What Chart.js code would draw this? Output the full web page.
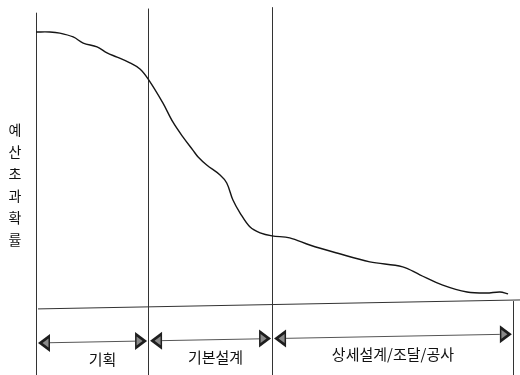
<!DOCTYPE html>
<html><head><meta charset="utf-8">
<script src="https://cdn.jsdelivr.net/npm/chart.js@4"></script>
<style>html,body{margin:0;padding:0;background:#fff}#wrap{width:520px;height:375px}</style>
</head><body><div id="wrap"><canvas id="c" width="520" height="375"></canvas></div>
<script>
// ---- data ----
const phases = ['기획', '기본설계', '상세설계/조달/공사'];
const phaseBounds = [0, 23.5, 49.5, 100];          // project progress (%) at phase boundaries
const boundTops = [107, 108.5, 109, 2.5];           // top of each boundary line (y units)
const yAxisTitle = '예산초과확률';
const progress = [0, 2.9, 5.0, 7.8, 9.9, 12.8, 14.9, 17.0, 19.7, 21.8, 23.5, 26.6, 28.7, 30.8, 32.9, 34.0, 35.8, 38.6, 40.0, 41.3, 42.8, 44.9, 47.0, 49.5, 53.2, 57.4, 63.1, 70.0, 76.9, 80.5, 85.3, 90.4, 94.5, 97.3, 99.0];
const probability = [100, 100, 99.6, 98.2, 96.0, 94.6, 92.4, 90.9, 88.8, 86.6, 83.0, 74.3, 67.4, 62.0, 57.2, 54.7, 51.8, 48.2, 45.3, 39.1, 34.4, 29.3, 27.2, 26.1, 25.4, 22.8, 19.9, 16.7, 14.9, 12.0, 8.3, 5.8, 5.4, 5.8, 5.1];

const FONT = '"Noto Sans CJK KR", "Noto Sans", sans-serif';

const decor = {
  id: 'decor',
  beforeDatasetsDraw(chart) {
    const {ctx, scales: {x, y}} = chart;
    const slope = -9 / 484;
    const x0 = x.getPixelForValue(0);
    const tilt = px => (px - x0) * slope;
    ctx.save();
    // boundary vertical lines
    ctx.strokeStyle = '#333';
    ctx.lineWidth = 1;
    phaseBounds.forEach((b, i) => {
      const px = Math.round(x.getPixelForValue(b)) + 0.5;
      ctx.beginPath();
      ctx.moveTo(px, y.getPixelForValue(boundTops[i]));
      ctx.lineTo(px, chart.height);
      ctx.stroke();
    });
    // horizontal axis (slightly tilted as in the scan)
    const yz = y.getPixelForValue(0) + 1;
    ctx.beginPath();
    ctx.moveTo(x0 + 2, yz + tilt(x0 + 2));
    ctx.lineTo(chart.width, yz + tilt(chart.width));
    ctx.stroke();

    // phase arrows
    const ya = y.getPixelForValue(-12.7);
    const aw = 12, ah = 9;
    const head = (tipX, dir) => {
      const ty = ya + tilt(tipX);
      const bx = tipX + dir * aw;
      ctx.fillStyle = '#1e1e1e';
      ctx.beginPath();
      ctx.moveTo(tipX, ty);
      ctx.lineTo(bx, ty - ah);
      ctx.lineTo(bx, ty + ah);
      ctx.closePath();
      ctx.fill();
      ctx.fillStyle = '#8a8a8a';
      ctx.beginPath();
      ctx.moveTo(tipX + dir * 4.5, ty);
      ctx.lineTo(bx - dir * 1.5, ty - ah + 4.5);
      ctx.lineTo(bx - dir * 1.5, ty + ah - 4.5);
      ctx.closePath();
      ctx.fill();
      return bx;
    };
    const labelShift = [10, 5, 0];
    phases.forEach((name, i) => {
      const l = x.getPixelForValue(phaseBounds[i]) + 2;
      const r = x.getPixelForValue(phaseBounds[i + 1]) - 1;
      const lb = head(l, 1);
      const rb = head(r, -1);
      ctx.strokeStyle = '#555';
      ctx.lineWidth = 1;
      ctx.beginPath();
      ctx.moveTo(lb, ya + tilt(lb));
      ctx.lineTo(rb, ya + tilt(rb));
      ctx.stroke();
      const cx = (l + r) / 2 + labelShift[i];
      ctx.fillStyle = '#111';
      ctx.font = '15px ' + FONT;
      ctx.textAlign = 'center';
      ctx.textBaseline = 'middle';
      ctx.fillText(name, cx, ya + tilt(cx) + 18);
    });

    // vertical y-axis title, one character per line
    ctx.fillStyle = '#111';
    ctx.font = '14px ' + FONT;
    ctx.textAlign = 'center';
    ctx.textBaseline = 'middle';
    [...yAxisTitle].forEach((ch, i) => {
      ctx.fillText(ch, 15, 130 + i * 22);
    });
    ctx.restore();
  }
};

function draw() {
  new Chart(document.getElementById('c'), {
    type: 'line',
    data: {
      datasets: [{
        data: progress.map((p, i) => ({x: p, y: probability[i]})),
        borderColor: '#151515',
        borderWidth: 1.4,
        pointRadius: 0,
        tension: 0.35,
        fill: false
      }]
    },
    options: {
      responsive: false,
      animation: false,
      devicePixelRatio: 1,
      layout: {padding: {left: 36, right: 0, top: 0, bottom: 0}},
      scales: {
        x: {type: 'linear', min: 0, max: 101.5, display: false},
        y: {min: -24.3, max: 111.6, display: false}
      },
      plugins: {legend: {display: false}, tooltip: {enabled: false}, title: {display: false}}
    },
    plugins: [decor]
  });
}
if (document.fonts && document.fonts.load) {
  Promise.all([document.fonts.load('15px "Noto Sans CJK KR"', '기획')]).then(draw, draw);
} else { draw(); }
</script>
</body></html>
